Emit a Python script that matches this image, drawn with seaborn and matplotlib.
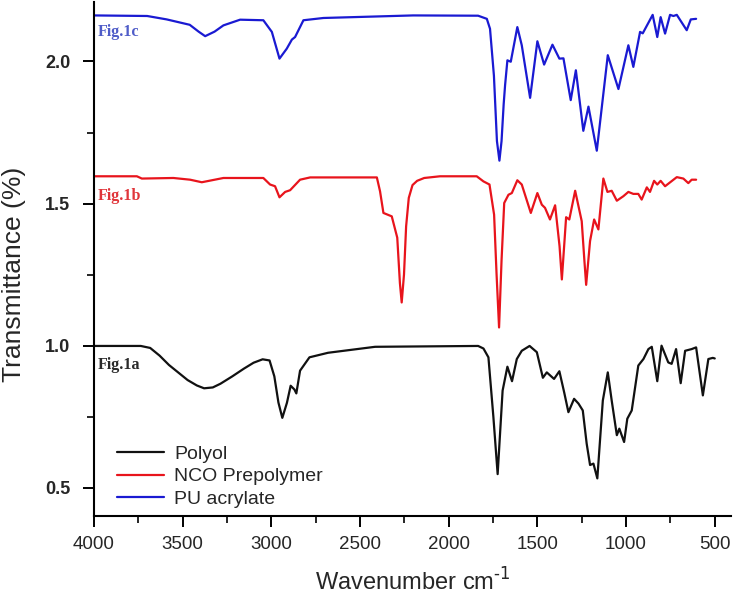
"""FTIR spectra of polyol, NCO prepolymer and PU acrylate (stacked)."""

import matplotlib
matplotlib.use('Agg')
import matplotlib.pyplot as plt
from matplotlib.ticker import MultipleLocator
import seaborn as sns
import pandas as pd

# Polyol (Fig.1a)
polyol_wn = [4000, 3736, 3683, 3630, 3577, 3472, 3420, 3379, 3330, 3287, 3220, 3155, 3100,
             3049, 3010, 2983, 2960, 2938, 2912, 2891, 2870, 2859, 2838, 2785, 2680, 2415,
             1834, 1804, 1776, 1748, 1724, 1696, 1669, 1643, 1616, 1588, 1544, 1503, 1469,
             1447, 1406, 1376, 1349, 1325, 1293, 1268, 1244, 1222, 1203, 1184, 1162, 1131,
             1103, 1081, 1052, 1038, 1011, 993, 968, 931, 902, 874, 855, 824, 800, 762,
             743, 718, 692, 667, 630, 605, 567, 536, 511, 500]
polyol_t = [0.999, 0.999, 0.992, 0.965, 0.932, 0.879, 0.860, 0.850, 0.853, 0.866, 0.892,
            0.919, 0.940, 0.952, 0.948, 0.892, 0.800, 0.746, 0.799, 0.859, 0.846, 0.832,
            0.912, 0.959, 0.975, 0.996, 0.999, 0.990, 0.959, 0.749, 0.548, 0.842, 0.926,
            0.875, 0.953, 0.982, 0.999, 0.977, 0.887, 0.906, 0.883, 0.910, 0.836, 0.766,
            0.813, 0.796, 0.772, 0.655, 0.580, 0.585, 0.533, 0.807, 0.906, 0.807, 0.685,
            0.708, 0.661, 0.743, 0.772, 0.930, 0.953, 0.988, 0.996, 0.875, 1.000, 0.941,
            0.936, 0.988, 0.868, 0.982, 0.988, 0.994, 0.825, 0.953, 0.957, 0.955]

# NCO prepolymer (Fig.1b)
nco_wn = [4000, 3758, 3730, 3552, 3458, 3392, 3270, 3045, 3007, 2979, 2954, 2922, 2894,
          2838, 2781, 2405, 2387, 2368, 2321, 2290, 2275, 2265, 2252, 2240, 2225, 2204,
          2178, 2138, 2049, 1842, 1804, 1770, 1744, 1730, 1716, 1702, 1687, 1663, 1644,
          1613, 1588, 1537, 1500, 1475, 1457, 1429, 1400, 1375, 1362, 1348, 1338, 1320,
          1287, 1250, 1235, 1225, 1203, 1180, 1156, 1128, 1105, 1081, 1052, 1015, 987,
          959, 931, 912, 883, 865, 842, 824, 805, 780, 714, 677, 649, 630, 605]
nco_t = [1.596, 1.596, 1.588, 1.590, 1.584, 1.575, 1.590, 1.590, 1.567, 1.561, 1.522,
         1.541, 1.547, 1.584, 1.592, 1.592, 1.543, 1.467, 1.455, 1.380, 1.220, 1.152,
         1.250, 1.420, 1.520, 1.565, 1.580, 1.590, 1.596, 1.596, 1.578, 1.567, 1.461,
         1.250, 1.064, 1.300, 1.502, 1.531, 1.537, 1.582, 1.567, 1.467, 1.537, 1.496,
         1.485, 1.444, 1.494, 1.350, 1.233, 1.360, 1.452, 1.444, 1.545, 1.438, 1.300,
         1.214, 1.368, 1.444, 1.409, 1.588, 1.541, 1.545, 1.510, 1.526, 1.541, 1.534,
         1.534, 1.514, 1.557, 1.541, 1.580, 1.567, 1.580, 1.561, 1.593, 1.588, 1.572,
         1.584, 1.584]

# PU acrylate (Fig.1c)
pua_wn = [4000, 3700, 3590, 3460, 3410, 3373, 3320, 3270, 3176, 3045, 2997, 2954, 2913,
          2884, 2866, 2819, 2706, 2200, 1834, 1785, 1767, 1745, 1728, 1714, 1702, 1690,
          1682, 1669, 1650, 1613, 1588, 1541, 1500, 1462, 1415, 1376, 1353, 1312, 1283,
          1241, 1212, 1165, 1103, 1043, 987, 959, 921, 906, 850, 824, 805, 780, 752, 733,
          714, 658, 635, 605]
pua_t = [2.162, 2.160, 2.148, 2.129, 2.105, 2.089, 2.105, 2.127, 2.147, 2.145, 2.104,
         2.010, 2.045, 2.077, 2.086, 2.145, 2.153, 2.162, 2.161, 2.150, 2.115, 1.950,
         1.720, 1.651, 1.720, 1.850, 1.917, 2.004, 1.999, 2.121, 2.057, 1.872, 2.071,
         1.989, 2.059, 2.010, 2.011, 1.864, 1.969, 1.756, 1.841, 1.686, 2.022, 1.903,
         2.057, 1.981, 2.104, 2.099, 2.164, 2.086, 2.156, 2.098, 2.164, 2.160, 2.164,
         2.110, 2.148, 2.150]

series_names = ['Polyol', 'NCO Prepolymer', 'PU acrylate']
series_colors = ['#111111', '#e8141c', '#1a1ad2']
panel_labels = ['Fig.1a', 'Fig.1b', 'Fig.1c']
panel_label_colors = ['#2a2a2a', '#e0353a', '#4f5cc8']
panel_label_y = [0.933, 1.525, 2.104]

sns.set_style('ticks')
plt.rcParams['font.family'] = ['Liberation Sans', 'DejaVu Sans']

df = pd.concat([
    pd.DataFrame({'wn': polyol_wn, 'T': polyol_t, 'sample': series_names[0]}),
    pd.DataFrame({'wn': nco_wn, 'T': nco_t, 'sample': series_names[1]}),
    pd.DataFrame({'wn': pua_wn, 'T': pua_t, 'sample': series_names[2]}),
])

fig = plt.figure(figsize=(7.34, 5.94), dpi=100)
ax = fig.add_axes([0.128, 0.131, 0.868, 0.866])

sns.lineplot(data=df, x='wn', y='T', hue='sample', hue_order=series_names,
             palette=series_colors, estimator=None, linewidth=1.6, ax=ax)

ax.set_xlim(4000, 408)
ax.set_ylim(0.40, 2.21)
ax.xaxis.set_major_locator(MultipleLocator(500))
ax.xaxis.set_minor_locator(MultipleLocator(250))
ax.yaxis.set_major_locator(MultipleLocator(0.5))
ax.yaxis.set_minor_locator(MultipleLocator(0.25))
ax.yaxis.set_major_formatter(plt.FuncFormatter(lambda v, _: f'{v:.1f}'))

sns.despine(ax=ax)
for side in ['left', 'bottom']:
    ax.spines[side].set_linewidth(1.5)
    ax.spines[side].set_color('black')
ax.tick_params(which='major', length=8, width=1.4, color='black')
ax.tick_params(which='minor', length=5, width=1.2, color='black')
ax.tick_params(axis='x', labelsize=13.5, pad=6)
ax.tick_params(axis='y', labelsize=13, pad=9)
for lbl in ax.get_yticklabels():
    lbl.set_fontweight('bold')

ax.set_xlabel('Wavenumber cm$^{\\text{-}1}$', fontsize=17)
ax.xaxis.set_label_coords(0.5, -0.101)
ax.set_ylabel('Transmittance (%)', fontsize=19)
ax.yaxis.set_label_coords(-0.106, 0.47)

for text, color, yv in zip(panel_labels, panel_label_colors, panel_label_y):
    ax.text(3978, yv, text, color=color, fontsize=11.5, fontweight='bold',
            family=['Liberation Serif', 'DejaVu Serif'], va='center', ha='left')

handles, labels = ax.get_legend_handles_labels()
ax.legend(handles, labels, loc='lower left', bbox_to_anchor=(0.036, 0.016),
          frameon=False, fontsize=14, handlelength=2.4, handletextpad=0.55,
          labelspacing=0.25, borderpad=0, borderaxespad=0)

fig.savefig('out.png', dpi=100)
